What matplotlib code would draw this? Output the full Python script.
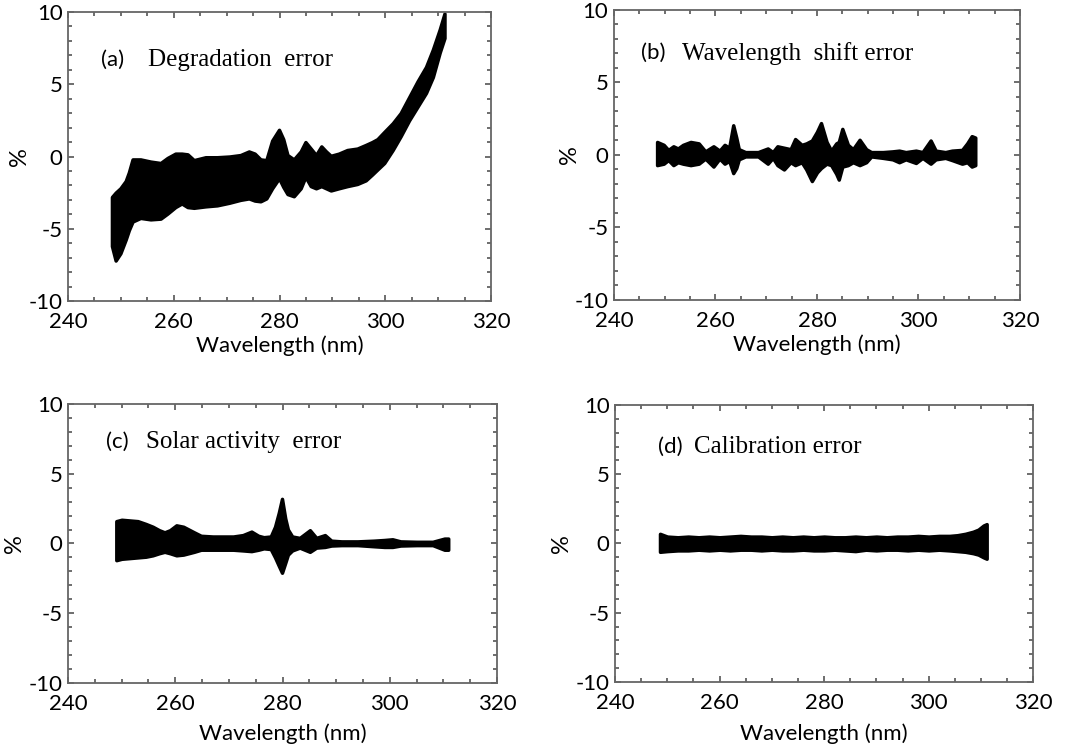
import matplotlib
matplotlib.use("Agg")
import matplotlib.pyplot as plt
from matplotlib.ticker import MultipleLocator

plt.rcParams["axes.unicode_minus"] = False

# (a) degradation error envelope
wl_a = [248.3, 249.0, 249.9, 250.9, 251.5, 252.2, 253.7, 255.6, 257.5, 258.8,
        260.3, 261.5, 262.6, 263.8, 266.0, 268.2, 270.5, 272.6, 274.2, 275.3,
        276.4, 277.5, 278.6, 279.9, 280.7, 281.5, 282.7, 284.0, 284.9, 285.9,
        286.9, 287.9, 288.8, 289.7, 291.2, 292.8, 294.7, 296.3, 297.5, 298.5,
        299.8, 301.4, 302.9, 304.5, 306.1, 307.7, 309.0, 310.3, 311.2]
up_a = [-2.8, -2.5, -2.2, -1.7, -1.1, -0.2, -0.2, -0.35, -0.45, -0.1,
        0.2, 0.2, 0.15, -0.25, -0.05, -0.05, 0.0, 0.1, 0.35, 0.2,
        -0.2, -0.25, 1.1, 1.85, 1.2, 0.1, -0.2, 0.35, 1.0, 0.55,
        0.1, 0.7, 0.35, 0.05, 0.2, 0.45, 0.55, 0.8, 1.0, 1.2,
        1.7, 2.3, 3.0, 4.1, 5.2, 6.2, 7.4, 8.8, 9.9]
lo_a = [-6.2, -7.2, -6.7, -5.75, -5.1, -4.5, -4.25, -4.35, -4.3, -3.95,
        -3.5, -3.25, -3.5, -3.55, -3.45, -3.38, -3.2, -3.0, -2.9, -3.05,
        -3.1, -2.9, -2.2, -1.5, -2.1, -2.6, -2.75, -2.2, -1.4, -2.05,
        -2.2, -2.05, -2.2, -2.35, -2.2, -2.05, -1.9, -1.65, -1.25, -0.9,
        -0.45, 0.45, 1.4, 2.5, 3.45, 4.4, 5.5, 7.2, 8.2]

# (b) wavelength shift error envelope
wl_b = [248.5, 249.8, 250.7, 251.7, 252.6, 253.6, 255.1, 256.7, 258.0, 259.6,
        260.8, 261.8, 262.7, 263.5, 264.1, 264.6, 265.9, 268.4, 270.3, 271.3,
        272.2, 273.5, 274.8, 275.7, 277.0, 277.9, 279.0, 280.0, 280.8, 281.9,
        282.8, 283.8, 284.3, 285.0, 286.1, 287.1, 288.4, 289.7, 290.7, 293.0,
        294.9, 296.2, 297.5, 299.5, 300.8, 302.4, 303.4, 305.3, 306.6, 308.6,
        309.6, 310.5, 311.2]
up_b = [0.9, 0.7, 0.35, 0.6, 0.45, 0.7, 0.9, 0.8, 0.25, 0.6,
        0.3, 0.7, 0.5, 2.05, 1.2, 0.4, 0.2, 0.2, 0.45, 0.2,
        0.6, 0.5, 0.4, 1.1, 0.7, 0.8, 1.0, 1.6, 2.2, 0.9,
        0.3, 0.8, 0.9, 1.8, 0.7, 0.4, 1.05, 0.4, 0.2, 0.2,
        0.25, 0.3, 0.2, 0.3, 0.2, 1.0, 0.3, 0.2, 0.3, 0.35,
        0.8, 1.3, 1.2]
lo_b = [-0.7, -0.6, -0.35, -0.7, -0.5, -0.6, -0.7, -0.6, -0.25, -0.8,
        -0.25, -0.6, -0.4, -1.25, -0.9, -0.3, -0.1, -0.1, -0.6, -0.2,
        -0.7, -1.0, -0.5, -0.7, -0.5, -1.0, -1.8, -1.2, -0.9, -0.6,
        -0.7, -1.3, -1.7, -0.8, -0.7, -0.5, -0.7, -0.5, -0.1, -0.2,
        -0.3, -0.5, -0.3, -0.55, -0.2, -0.6, -0.3, -0.2, -0.35, -0.6,
        -0.5, -0.8, -0.7]

# (c) solar activity error envelope
wl_c = [249.0, 250.0, 251.5, 253.0, 254.5, 255.8, 257.0, 258.0, 259.0, 260.2,
        261.5, 262.5, 263.5, 264.8, 267.0, 269.0, 270.8, 272.6, 274.2, 275.5,
        276.5, 277.8, 278.6, 279.3, 279.9, 280.5, 281.0, 281.8, 283.2, 285.1,
        286.3, 287.9, 289.1, 291.0, 294.0, 297.0, 299.0, 300.5, 302.0, 305.0,
        308.0, 310.2, 310.9]
up_c = [1.6, 1.7, 1.65, 1.6, 1.4, 1.2, 0.95, 0.8, 0.95, 1.3,
        1.2, 1.0, 0.8, 0.55, 0.5, 0.5, 0.5, 0.6, 0.85, 0.55,
        0.45, 0.5, 1.2, 2.2, 3.2, 1.8, 1.0, 0.5, 0.4, 0.95,
        0.4, 0.6, 0.2, 0.15, 0.15, 0.2, 0.25, 0.3, 0.15, 0.12,
        0.12, 0.35, 0.35]
lo_c = [-1.2, -1.1, -1.05, -1.0, -0.95, -0.85, -0.7, -0.6, -0.7, -0.85,
        -0.8, -0.7, -0.6, -0.45, -0.45, -0.45, -0.45, -0.5, -0.55, -0.45,
        -0.35, -0.4, -1.0, -1.6, -2.1, -1.4, -0.8, -0.5, -0.3, -0.6,
        -0.3, -0.25, -0.15, -0.12, -0.12, -0.2, -0.25, -0.25, -0.15, -0.12,
        -0.12, -0.45, -0.45]

# (d) calibration error envelope
wl_d = [248.6, 250, 252, 254, 256, 258, 260, 262, 264, 266,
        268, 270, 272, 274, 276, 278, 280, 282, 284, 286,
        288, 290, 292, 294, 296, 298, 300, 302, 304, 305.5,
        307, 308.5, 309.5, 310.5, 311.1]
up_d = [0.7, 0.5, 0.45, 0.5, 0.45, 0.5, 0.45, 0.5, 0.55, 0.5,
        0.5, 0.45, 0.5, 0.45, 0.5, 0.45, 0.5, 0.45, 0.45, 0.5,
        0.45, 0.5, 0.45, 0.5, 0.5, 0.55, 0.5, 0.55, 0.55, 0.6,
        0.7, 0.85, 1.0, 1.3, 1.4]
lo_d = [-0.6, -0.55, -0.5, -0.5, -0.45, -0.5, -0.45, -0.5, -0.45, -0.45,
        -0.5, -0.45, -0.5, -0.5, -0.45, -0.5, -0.5, -0.45, -0.5, -0.55,
        -0.45, -0.5, -0.45, -0.45, -0.5, -0.45, -0.5, -0.45, -0.5, -0.55,
        -0.6, -0.7, -0.8, -1.0, -1.1]

tags = ["(a)", "(b)", "(c)", "(d)"]
titles = ["Degradation  error", "Wavelength  shift error",
          "Solar activity  error", "Calibration error"]

SANS = "Lato"
SERIF = "Liberation Serif"


def style_axes(ax, ylab_x, xlab_y):
    ax.set_xlim(240, 320)
    ax.set_ylim(-10, 10)
    ax.set_xticks([240, 260, 280, 300, 320])
    ax.set_yticks([-10, -5, 0, 5, 10])
    ax.xaxis.set_minor_locator(MultipleLocator(5))
    ax.yaxis.set_minor_locator(MultipleLocator(1))
    ax.tick_params(which="both", direction="in", top=True, right=True,
                   color="#555555", width=1.2)
    ax.tick_params(which="major", length=4)
    ax.tick_params(which="minor", length=3)
    ax.tick_params(axis="x", pad=8, labelsize=16)
    ax.tick_params(axis="y", pad=4, labelsize=16)
    for lab in ax.get_xticklabels() + ax.get_yticklabels():
        lab.set_fontfamily(SANS)
    for sp in ax.spines.values():
        sp.set_color("#666666")
        sp.set_linewidth(1.3)
    ax.set_xlabel("Wavelength (nm)", fontsize=16, family=SANS)
    ax.set_ylabel("%", fontsize=17, family=SANS)
    ax.xaxis.set_label_coords(0.5, xlab_y)
    ax.yaxis.set_label_coords(ylab_x, 0.5)


def draw_panel(ax, wl, up, lo, tag, title, tag_xy, title_x, ylab_x, xlab_y):
    ax.fill_between(wl, lo, up, color="black", edgecolor="black",
                    linewidth=2.5, joinstyle="round")
    ax.text(tag_xy[0], tag_xy[1], tag, transform=ax.transAxes,
            fontsize=16, family=SANS, va="center")
    ax.text(title_x, tag_xy[1], title, transform=ax.transAxes,
            fontsize=18, family=SERIF, va="center")
    style_axes(ax, ylab_x, xlab_y)


def main():
    fig = plt.figure(figsize=(10.7, 7.46), dpi=100)
    ax_a = fig.add_axes([0.0636, 0.5965, 0.3953, 0.3874])
    ax_b = fig.add_axes([0.5738, 0.5979, 0.3794, 0.3887])
    ax_c = fig.add_axes([0.0636, 0.0845, 0.4009, 0.3740])
    ax_d = fig.add_axes([0.5748, 0.0858, 0.3908, 0.3713])

    draw_panel(ax_a, wl_a, up_a, lo_a, tags[0], titles[0], (0.078, 0.834), 0.19, -0.09, -0.12)
    draw_panel(ax_b, wl_b, up_b, lo_b, tags[1], titles[1], (0.066, 0.851), 0.168, -0.084, -0.12)
    draw_panel(ax_c, wl_c, up_c, lo_c, tags[2], titles[2], (0.088, 0.865), 0.181, -0.1, -0.145)
    draw_panel(ax_d, wl_d, up_d, lo_d, tags[3], titles[3], (0.102, 0.849), 0.19, -0.103, -0.15)

    fig.savefig("out.png", dpi=100, facecolor="white")


if __name__ == "__main__":
    main()
